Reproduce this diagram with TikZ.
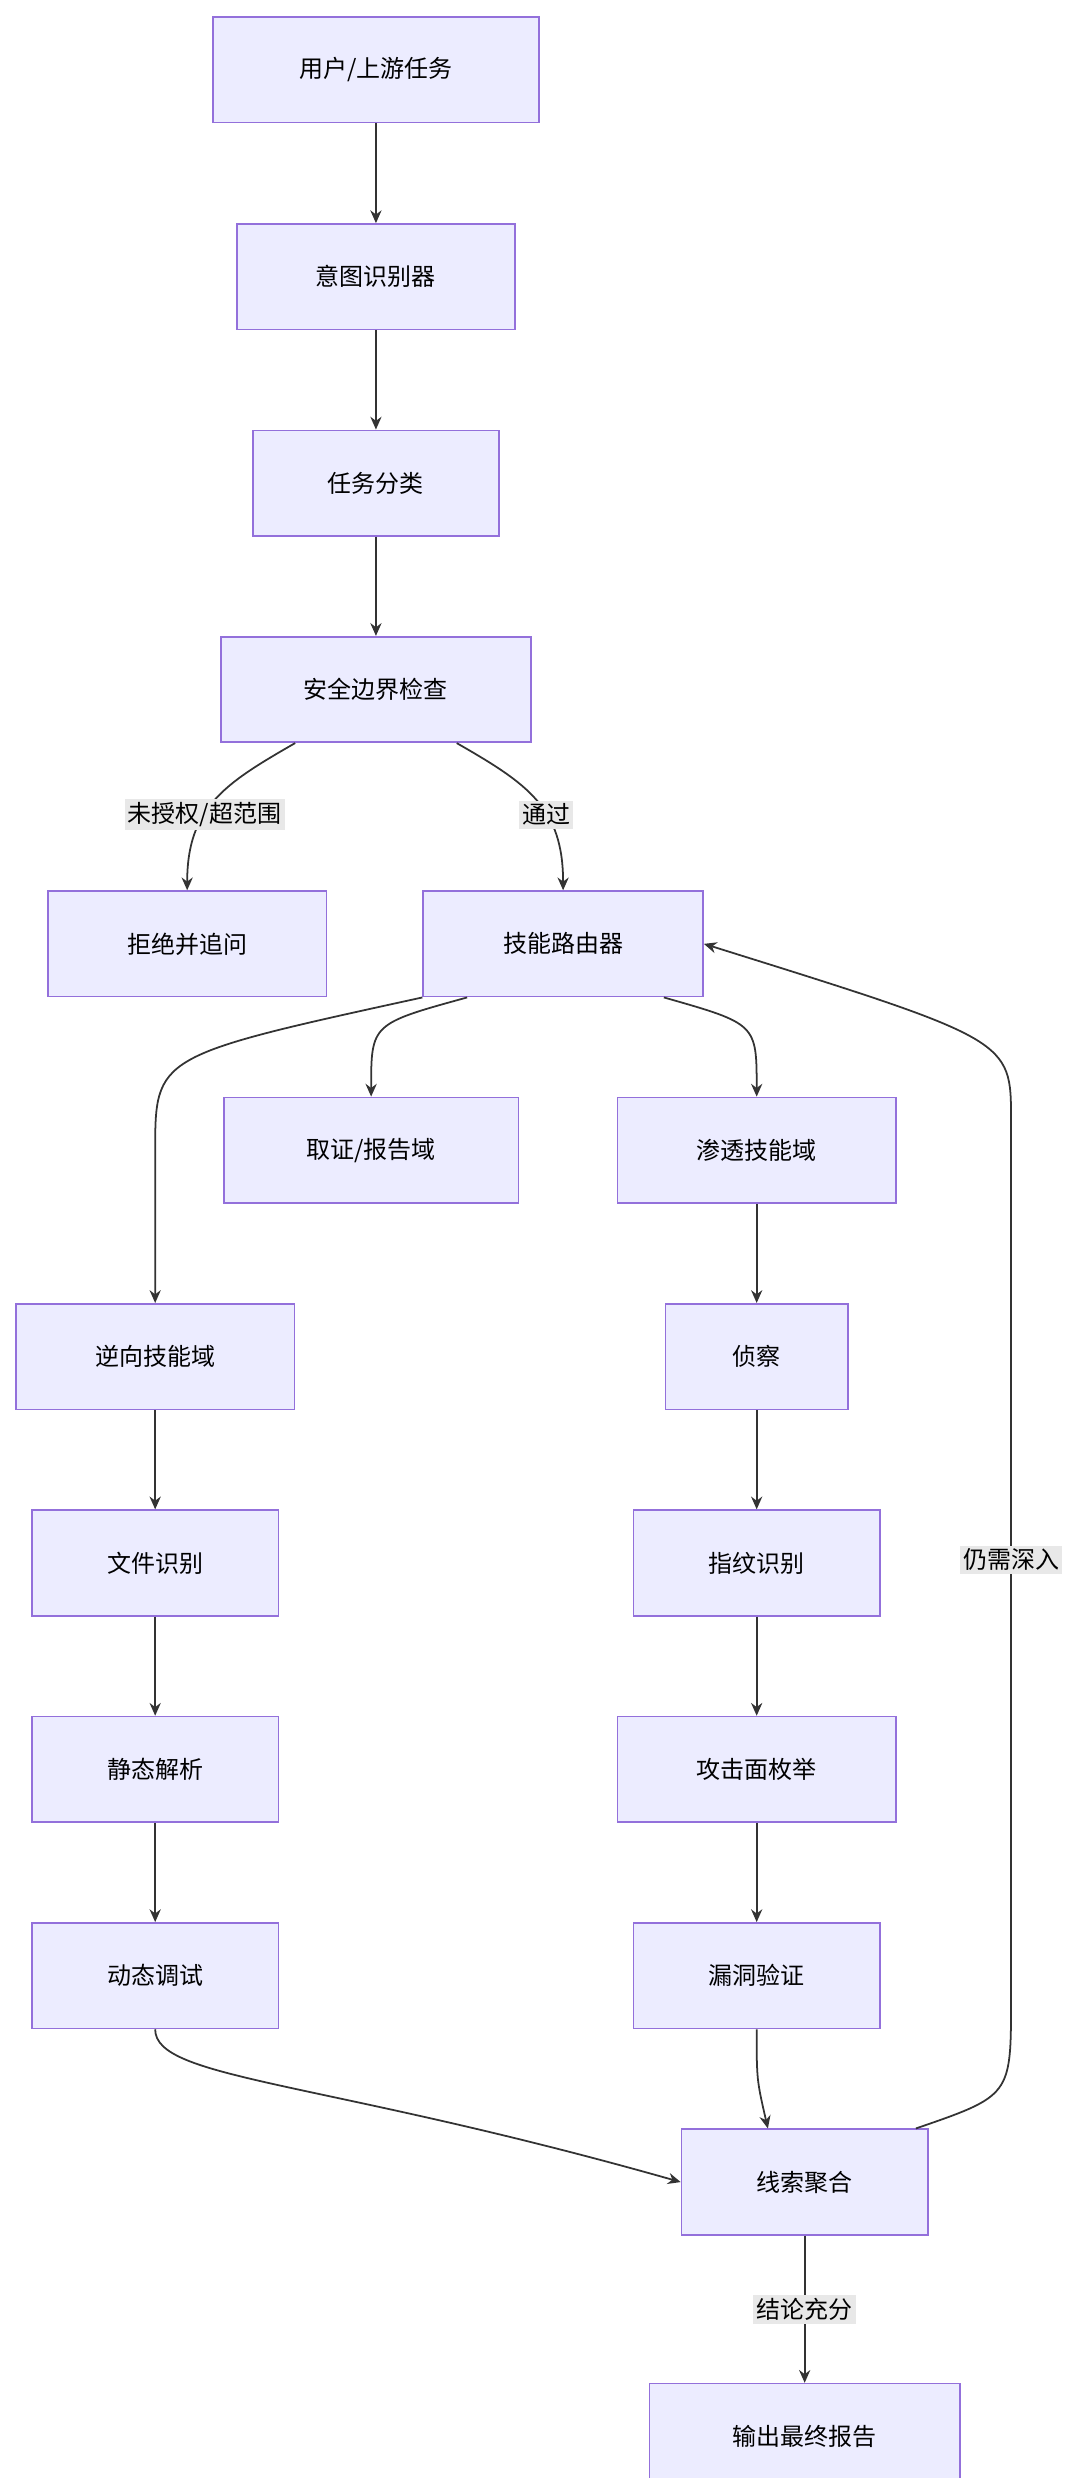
\documentclass[tikz,border=0pt]{standalone}
\usepackage{fontspec}
\setmainfont{Noto Sans CJK SC}
\usetikzlibrary{arrows.meta}
\begin{document}
\begin{tikzpicture}[x=1pt,y=-1pt,
  box/.style={draw={rgb,255:red,147;green,112;blue,219},fill={rgb,255:red,236;green,236;blue,255},line width=1pt,minimum height=66pt,font=\fontsize{15}{18}\selectfont},
  lbl/.style={fill={rgb,255:red,232;green,232;blue,232},inner sep=2pt,font=\fontsize{15}{18}\selectfont},
  link/.style={draw={rgb,255:red,51;green,51;blue,51},line width=1.1pt,-{Stealth[length=8pt,width=7pt]}}]
  \useasboundingbox (0,0) rectangle (675,1549);

  % nodes
  \node[box,minimum width=204pt] (user) at (235,43.5) {用户/上游任务};
  \node[box,minimum width=174pt] (intent) at (235,173) {意图识别器};
  \node[box,minimum width=154pt] (classify) at (235,302) {任务分类};
  \node[box,minimum width=194pt] (safety) at (235,431) {安全边界检查};
  \node[box,minimum width=174pt] (reject) at (117,590) {拒绝并追问};
  \node[box,minimum width=175pt] (router) at (352,590) {技能路由器};
  \node[box,minimum width=184pt] (forensic) at (232,719) {取证/报告域};
  \node[box,minimum width=174pt] (pentest) at (473,719) {渗透技能域};
  \node[box,minimum width=174pt] (reverse) at (97,848) {逆向技能域};
  \node[box,minimum width=114pt] (recon) at (473,848) {侦察};
  \node[box,minimum width=154pt] (fileid) at (97,977) {文件识别};
  \node[box,minimum width=154pt] (finger) at (473,977) {指纹识别};
  \node[box,minimum width=154pt] (static) at (97,1106) {静态解析};
  \node[box,minimum width=174pt] (surface) at (473,1106) {攻击面枚举};
  \node[box,minimum width=154pt] (dynamic) at (97,1235) {动态调试};
  \node[box,minimum width=154pt] (vuln) at (473,1235) {漏洞验证};
  \node[box,minimum width=154pt] (merge) at (503,1364) {线索聚合};
  \node[box,minimum width=194pt] (report) at (503,1523) {输出最终报告};

  % connectors
  \draw[link] (user) -- (intent);
  \draw[link] (intent) -- (classify);
  \draw[link] (classify) -- (safety);
  \draw[link] (safety.south west) ++(47,0) .. controls (140,490) and (117,505) .. node[lbl,pos=0.6] {未授权/超范围} (reject.north);
  \draw[link] (safety.south east) ++(-47,0) .. controls (330,490) and (352,505) .. node[lbl,pos=0.6] {通过} (router.north);
  \draw[link] (router.south west) .. controls (97,660) .. (97,720) -- (reverse.north);
  \draw[link] (router.south) ++(-60,0) .. controls (232,640) .. (forensic.north);
  \draw[link] (router.south) ++(63,0) .. controls (473,640) .. (pentest.north);
  \draw[link] (pentest) -- (recon);
  \draw[link] (recon) -- (finger);
  \draw[link] (finger) -- (surface);
  \draw[link] (surface) -- (vuln);
  \draw[link] (reverse) -- (fileid);
  \draw[link] (fileid) -- (static);
  \draw[link] (static) -- (dynamic);
  \draw[link] (vuln.south) .. controls (473,1300) .. (merge.north -| 480,0);
  \draw[link] (dynamic.south) .. controls (97,1300) and (200,1300) .. (merge.west);
  \draw[link] (merge.north east) ++(-8,0) .. controls (632,1310) .. (632,1250) -- node[lbl] {仍需深入} (632,700) .. controls (632,650) .. (router.east);
  \draw[link] (merge) -- node[lbl] {结论充分} (report);
\end{tikzpicture}
\end{document}
